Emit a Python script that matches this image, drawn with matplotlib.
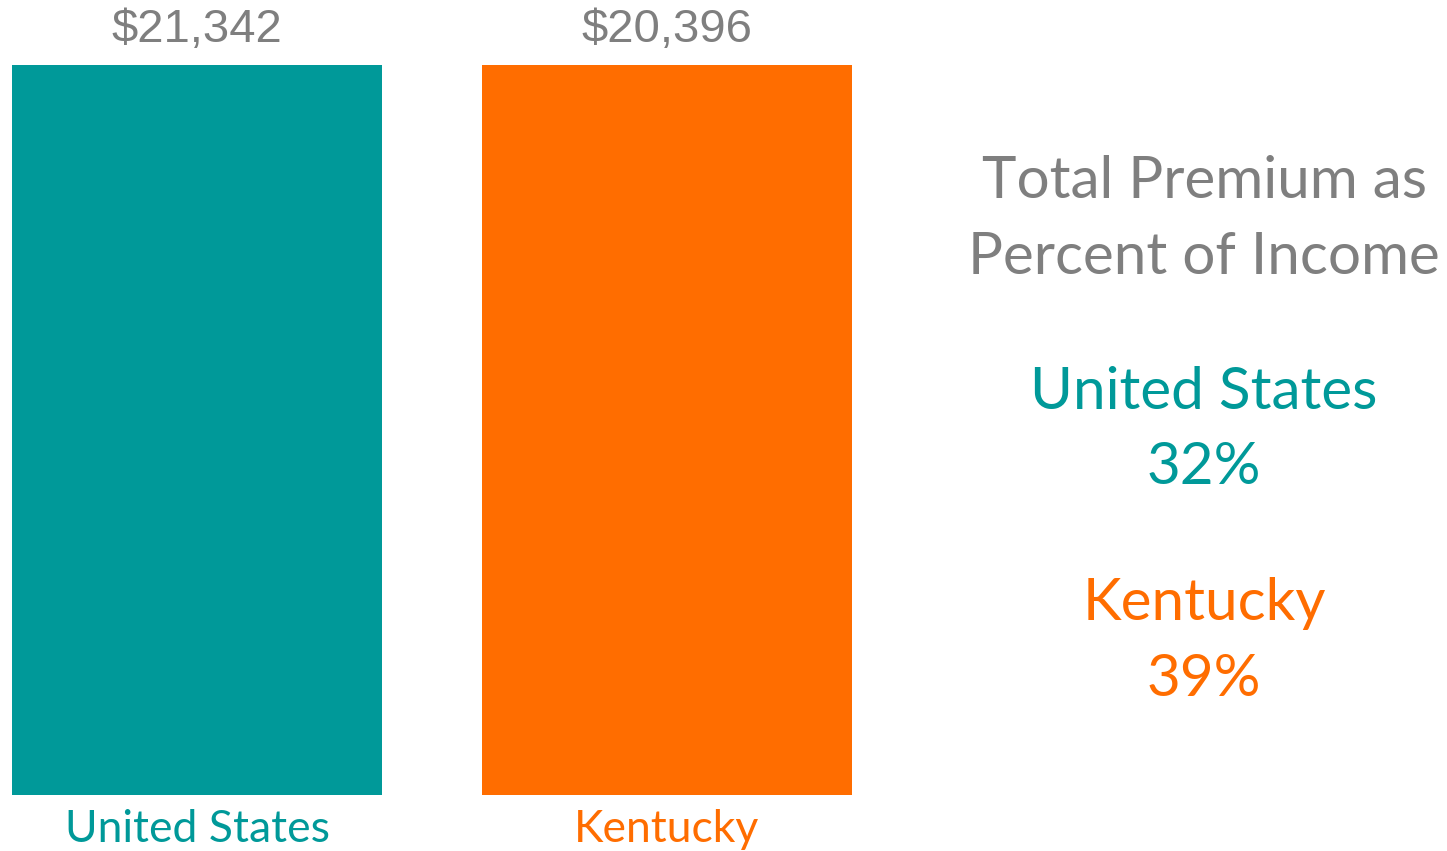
import matplotlib
matplotlib.use("Agg")
import matplotlib.pyplot as plt

categories = ["United States", "Kentucky"]
premiums = [21342, 20396]
bar_heights = [100, 100]  # bars drawn at equal height in the reference
pct_income = [32, 39]
side_title = ["Total Premium as", "Percent of Income"]

colors = ["#009999", "#FF6D00"]
gray = "#7F7F7F"

W, H = 1447, 851
fig = plt.figure(figsize=(W / 100, H / 100), dpi=100)

# axes spanning the bars: left 12px, right 852px, top 65px, bottom 795px
ax = fig.add_axes([12 / W, (H - 795) / H, (852 - 12) / W, (795 - 65) / H])
bw = 370 / 470
ax.bar(range(len(categories)), bar_heights, width=bw, color=colors)
ax.set_xlim(-bw / 2, len(categories) - 1 + bw / 2)
ax.set_ylim(0, 100)
ax.axis("off")

for i, (cat, prem) in enumerate(zip(categories, premiums)):
    ax.annotate(f"${prem:,}", xy=(i, bar_heights[i]), xytext=(0, 35),
                textcoords="offset pixels", ha="center", va="center",
                fontsize=34, color=gray, family="Liberation Sans")
    ax.annotate(cat, xy=(i, 0), xytext=(0, -35),
                textcoords="offset pixels", ha="center", va="center",
                fontsize=32, color=colors[i], family="Lato")

cx = 1204 / W
for y, line in zip([181, 258], side_title):
    fig.text(cx, 1 - y / H, line, ha="center", va="center",
             fontsize=42, color=gray, family="Lato")
ys = [(392, 467), (603, 680)]
for (y1, y2), cat, p, c in zip(ys, categories, pct_income, colors):
    fig.text(cx, 1 - y1 / H, cat, ha="center", va="center",
             fontsize=42, color=c, family="Lato")
    fig.text(cx, 1 - y2 / H, f"{p}%", ha="center", va="center",
             fontsize=42, color=c, family="Lato")

fig.savefig("out.png", dpi=100, facecolor="white")
